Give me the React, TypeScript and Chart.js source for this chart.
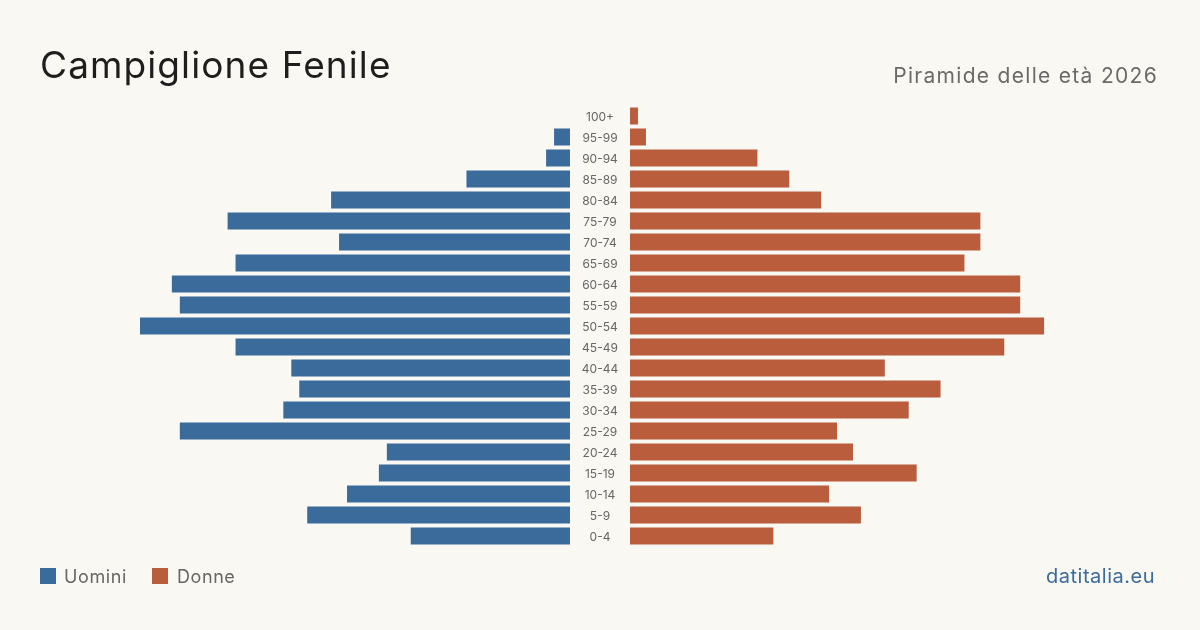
import React, { useEffect, useRef } from "react";
import { Chart, registerables } from "chart.js";

Chart.register(...registerables);

const AGE_GROUPS = ["100+", "95-99", "90-94", "85-89", "80-84", "75-79", "70-74", "65-69", "60-64", "55-59", "50-54", "45-49", "40-44", "35-39", "30-34", "25-29", "20-24", "15-19", "10-14", "5-9", "0-4"];
const MEN = [0, 2, 3, 13, 30, 43, 29, 42, 50, 49, 54, 42, 35, 34, 36, 49, 23, 24, 28, 33, 20];
const WOMEN = [1, 2, 16, 20, 24, 44, 44, 42, 49, 49, 52, 47, 32, 39, 35, 26, 28, 36, 25, 29, 18];

const BG = "#f9f8f3";
const BLUE = "#3b6b9b";
const ORANGE = "#b95d3c";
const FONT = "Inter, 'Noto Sans', sans-serif";

export default function App() {
  const ref = useRef<HTMLCanvasElement | null>(null);

  useEffect(() => {
    if (!ref.current) return;
    const maxV = Math.max(...MEN, ...WOMEN);
    const gap = maxV * 0.0698;
    const labelPlugin = {
      id: "centerLabels",
      afterDatasetsDraw(chart: any) {
        const { ctx, scales } = chart;
        const y = scales.y;
        const x = scales.x;
        const cx = x.getPixelForValue(0);
        ctx.save();
        ctx.font = `12px ${FONT}`;
        ctx.fillStyle = "#666";
        ctx.textAlign = "center";
        ctx.textBaseline = "middle";
        AGE_GROUPS.forEach((lab, i) => {
          ctx.fillText(lab, cx, y.getPixelForValue(i) + 1);
        });
        ctx.restore();
      },
    };
    const chart = new Chart(ref.current, {
      type: "bar",
      data: {
        labels: AGE_GROUPS,
        datasets: [
          {
            label: "Uomini",
            data: MEN.map((v) => [-gap, -gap - v]) as any,
            backgroundColor: BLUE,
            grouped: false,
            barPercentage: 0.81,
            categoryPercentage: 1,
            borderWidth: 0,
          },
          {
            label: "Donne",
            data: WOMEN.map((v) => [gap, gap + v]) as any,
            backgroundColor: ORANGE,
            grouped: false,
            barPercentage: 0.81,
            categoryPercentage: 1,
            borderWidth: 0,
          },
        ],
      },
      options: {
        indexAxis: "y",
        animation: false,
        responsive: false,
        maintainAspectRatio: false,
        layout: { padding: { left: 140, right: 140, top: 105.5, bottom: 83.5 } },
        scales: {
          x: { type: "linear", min: -(maxV + gap), max: maxV + gap, display: false },
          y: { type: "category", display: false },
        },
        plugins: { legend: { display: false }, tooltip: { enabled: false } },
      },
      plugins: [labelPlugin],
    } as any);
    return () => chart.destroy();
  }, []);

  return (
    <div style={{ position: "fixed", left: 0, top: 0, width: 1200, height: 630, background: BG, fontFamily: FONT, overflow: "hidden" }}>
      <canvas ref={ref} width={1200} height={630} style={{ position: "absolute", left: 0, top: 0, width: 1200, height: 630 }} />
      <div style={{ position: "absolute", left: 40, top: 42, fontSize: 37, lineHeight: "46px", color: "#1e1e1e", whiteSpace: "nowrap", letterSpacing: "1.1px" }}>Campiglione Fenile</div>
      <div style={{ position: "absolute", right: 42, top: 62, fontSize: 21, lineHeight: "28px", color: "#6a6a6a", whiteSpace: "nowrap", letterSpacing: "1.3px" }}>Piramide delle età 2026</div>
      <div style={{ position: "absolute", left: 40, top: 566, height: 20, display: "flex", alignItems: "center", fontSize: 18, color: "#666", whiteSpace: "nowrap", letterSpacing: "0.6px" }}>
        <span style={{ display: "inline-block", width: 16, height: 16, background: BLUE, marginRight: 8 }} />
        <span>Uomini</span>
        <span style={{ display: "inline-block", width: 16, height: 16, background: ORANGE, marginLeft: 25, marginRight: 9 }} />
        <span>Donne</span>
      </div>
      <div style={{ position: "absolute", right: 45, top: 563, fontSize: 20, lineHeight: "26px", color: "#3b6b9b", whiteSpace: "nowrap", letterSpacing: "0.5px" }}>datitalia.eu</div>
    </div>
  );
}
